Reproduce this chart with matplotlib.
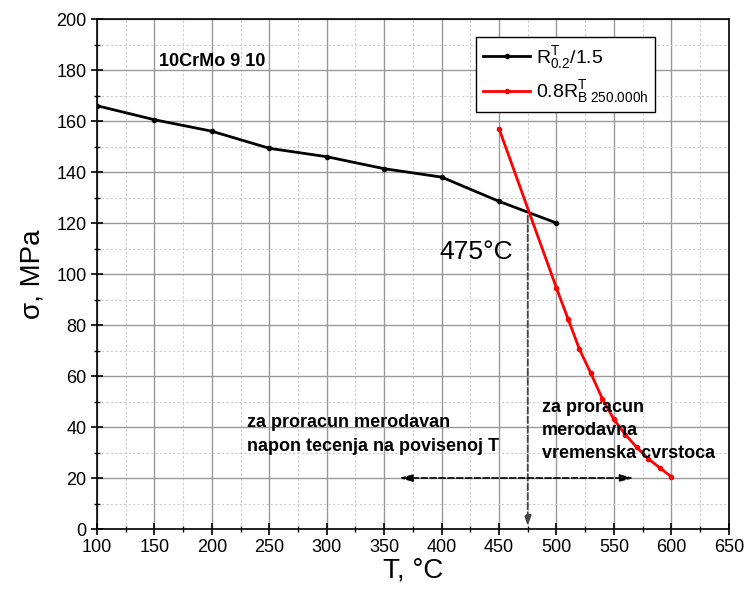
import matplotlib
matplotlib.use('Agg')
import matplotlib.pyplot as plt
from matplotlib.ticker import MultipleLocator

plt.rcParams['font.family'] = ['Liberation Sans', 'DejaVu Sans']
plt.rcParams['mathtext.fontset'] = 'custom'
plt.rcParams['mathtext.rm'] = 'Liberation Sans'
plt.rcParams['mathtext.it'] = 'Liberation Sans'

# --- data ---
t_yield = [100, 150, 200, 250, 300, 350, 400, 450, 500]
s_yield = [166, 160.5, 156, 149.3, 146, 141.3, 138, 128.5, 120]

t_creep = [450, 500, 510, 520, 530, 540, 550, 560, 570, 580, 590, 600]
s_creep = [157, 94.5, 82.5, 70.5, 61, 51, 43, 37, 32, 27.5, 24, 20.5]

t_cross = 475
s_cross = 124

fig = plt.figure(figsize=(7.49, 5.94), dpi=100)
ax = fig.add_axes([0.1295, 0.1094, 0.8435, 0.8586])

ax.plot(t_yield, s_yield, '-o', color='black', lw=2, ms=3,
        label=r'$\mathrm{R}^{\mathrm{T}}_{0.2}$/1.5')
ax.plot(t_creep, s_creep, '-o', color='red', lw=2, ms=3,
        label=r'0.8$\mathrm{R}^{\mathrm{T}}_{\mathrm{B\ 250.000h}}$')

# vertical dashed arrow at crossing
ax.annotate('', xy=(t_cross, 0), xytext=(t_cross, s_cross),
            arrowprops=dict(arrowstyle='-|>,head_length=0.6,head_width=0.2',
                            color='#444444', lw=1.3, ls='--'))
# horizontal double arrow
ax.annotate('', xy=(360, 20), xytext=(570, 20),
            arrowprops=dict(arrowstyle='<|-|>,head_length=0.8,head_width=0.2',
                            color='black', lw=1.2, ls='--'))

ax.text(398, 106, '475°C', fontsize=19)
ax.text(154, 181.5, '10CrMo 9 10', fontsize=13, fontweight='bold')
ax.text(231, 45, 'za proracun merodavan\nnapon tecenja na povisenoj T',
        fontsize=13, fontweight='bold', va='top', linespacing=1.5)
ax.text(487, 51, 'za proracun\nmerodavna\nvremenska cvrstoca',
        fontsize=13, fontweight='bold', va='top', linespacing=1.45)

ax.set_xlim(100, 650)
ax.set_ylim(0, 200)
ax.xaxis.set_major_locator(MultipleLocator(50))
ax.xaxis.set_minor_locator(MultipleLocator(25))
ax.yaxis.set_major_locator(MultipleLocator(20))
ax.yaxis.set_minor_locator(MultipleLocator(10))
ax.grid(which='major', color='#999999', lw=1, ls='-')
ax.grid(which='minor', color='#cccccc', lw=0.8, ls=(0, (2, 2)))
ax.set_axisbelow(True)
ax.tick_params(which='major', direction='inout', length=8, width=1.2, labelsize=13)
ax.tick_params(which='minor', direction='inout', length=5, width=1)
for s in ax.spines.values():
    s.set_linewidth(1.2)

ax.set_xlabel('T, °C', fontsize=20, labelpad=1)
ax.set_ylabel('σ, MPa', fontsize=20, labelpad=8)

leg = ax.legend(loc='upper right', bbox_to_anchor=(0.883, 0.965), fontsize=14,
                fancybox=False, edgecolor='black', framealpha=1,
                handlelength=2.4, handletextpad=0.3, borderpad=0.35,
                borderaxespad=0, labelspacing=0.4)
leg.get_frame().set_linewidth(1)

fig.savefig('out.png', dpi=100)
